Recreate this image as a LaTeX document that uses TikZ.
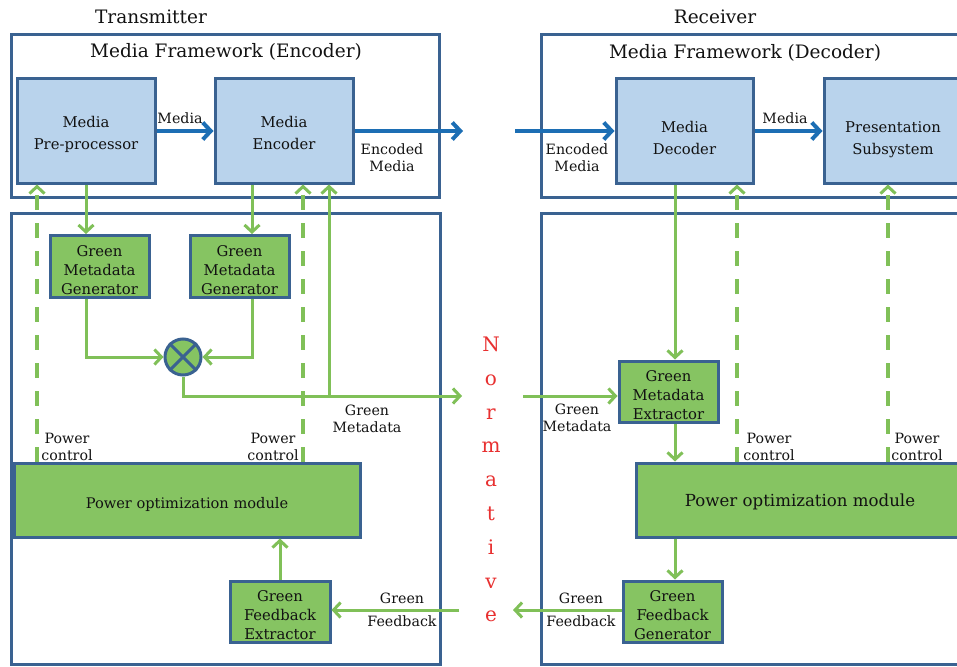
\documentclass[tikz,border=0pt]{standalone}
\usepackage{fontspec}
\setmainfont{DejaVu Serif}
\usetikzlibrary{arrows.meta}
\definecolor{frameblue}{RGB}{58,98,145}
\definecolor{boxblue}{RGB}{185,211,236}
\definecolor{boxgreen}{RGB}{134,196,98}
\definecolor{linegreen}{RGB}{128,192,88}
\definecolor{flowblue}{RGB}{28,110,180}
\definecolor{ink}{RGB}{18,18,18}
\definecolor{normred}{RGB}{232,48,48}
% lower a centred block of lines without changing its size
\newcommand\shiftdown[2]{\raisebox{-#1}[\height][\depth]{\begin{tabular}{@{}c@{}}#2\end{tabular}}}
\begin{document}
\begin{tikzpicture}[x=1pt,y=-1pt,
  every node/.style={text=ink, inner sep=0pt},
  frame/.style={draw=frameblue, line width=3pt},
  title/.style={font=\fontsize{18.5}{22}\selectfont},
  bluebox/.style={draw=frameblue, fill=boxblue, line width=3pt, minimum width=138pt,
    minimum height=104pt, font=\fontsize{14.8}{22}\selectfont},
  greenbox/.style={draw=frameblue, fill=boxgreen, line width=3pt, minimum width=99pt,
    minimum height=62pt, font=\fontsize{14.8}{19}\selectfont},
  powerbox/.style={draw=frameblue, fill=boxgreen, line width=3pt, minimum height=74pt},
  lbl/.style={align=center, font=\fontsize{14.2}{17}\selectfont},
  fblbl/.style={align=center, font=\fontsize{14.2}{23}\selectfont},
  gline/.style={draw=linegreen, line width=3pt},
  garrow/.style={gline, -{Straight Barb[length=7pt,width=15pt,line width=3pt]}},
  ctrl/.style={garrow, line width=4pt, dash pattern=on 15pt off 13pt},
  barrow/.style={draw=flowblue, line width=4pt,
    -{Straight Barb[length=8pt,width=17pt,line width=4pt]}},
  normletter/.style={text=normred, anchor=base, font=\fontsize{20}{22}\selectfont},
]
\useasboundingbox (0,0) rectangle (957,666);
\clip (0,0) rectangle (957,666);
\fill[white] (0,0) rectangle (957,666);

% ---------------- Transmitter ----------------
\node[title] (txtitle) at (151,17) {Transmitter};
\draw[frame] (11,35) rectangle (439,197);
\node[title] (enctitle) at (226,52) {Media Framework (Encoder)};
\draw[frame] (11,213) rectangle (440,664);

\node[bluebox] (pre) at (86,131) {\shiftdown{3pt}{Media\\Pre-processor}};
\node[bluebox] (enc) at (284,131) {\shiftdown{3pt}{Media\\Encoder}};
\node[greenbox] (gmgA) at (99.5,266.5) {\shiftdown{5pt}{Green\\Metadata\\Generator}};
\node[greenbox] (gmgB) at (239.5,266.5) {\shiftdown{5pt}{Green\\Metadata\\Generator}};
\node[circle, draw=frameblue, fill=boxgreen, line width=3pt, minimum size=36pt] (mix) at (183,357) {};
\draw[frameblue, line width=3pt] (mix.north west) -- (mix.south east)
  (mix.north east) -- (mix.south west);
\node[powerbox, minimum width=346pt, font=\fontsize{14.6}{18}\selectfont] (pomA) at (187,500)
  {\shiftdown{5pt}{Power optimization module}};
\node[greenbox, minimum width=100pt, minimum height=61pt] (gfe) at (280,611.5)
  {\shiftdown{5pt}{Green\\Feedback\\Extractor}};

\coordinate (encout) at (463,131);
\coordinate (tapB) at (252,0);
\coordinate (gmOut) at (462,396);
\coordinate (gmTap) at (329,396);
\coordinate (pcA) at (37,0);
\coordinate (pcB) at (303,0);
\coordinate (fbIn) at (459,610);

\draw[barrow] (pre.east) -- (enc.west);
\draw[barrow] (enc.east) -- (encout);
\draw[garrow] (pre.south) -- (pre.south |- gmgA.north);
\draw[garrow] (enc.south -| tapB) -- (gmgB.north -| tapB);
\draw[garrow] (gmgA.south -| pre.south) |- (mix.west);
\draw[garrow] (gmgB.south -| tapB) |- (mix.east);
\draw[garrow] (mix.south) |- (gmOut);
\draw[garrow] (gmTap) -- (gmTap |- enc.south);
\draw[ctrl] (pomA.north -| pcA) -- (pre.south -| pcA);
\draw[ctrl] (pomA.north -| pcB) -- (enc.south -| pcB);
\draw[garrow] (gfe.north) -- (gfe.north |- pomA.south);
\draw[garrow] (fbIn) -- (fbIn -| gfe.east);

\node[lbl] (lmedA) at (180,118) {Media};
\node[lbl] (lencA) at (392,158) {Encoded\\Media};
\node[lbl] (lgmA) at (367,419) {Green\\Metadata};
\node[lbl] (lpcA) at (67,447) {Power\\control};
\node[lbl] (lpcB) at (273,447) {Power\\control};
\node[fblbl] (lfbA) at (402,610) {Green\\Feedback};

% ---------------- Receiver ----------------
\node[title] (rxtitle) at (715,17) {Receiver};
\draw[frame] (541,35) rectangle (975,197);
\node[title] (dectitle) at (745,53) {Media Framework (Decoder)};
\draw[frame] (541,213) rectangle (975,664);

\node[bluebox, minimum width=137pt] (dec) at (684.5,131) {\shiftdown{8pt}{Media\\Decoder}};
\node[bluebox] (pres) at (893,131) {\shiftdown{8pt}{Presentation\\Subsystem}};
\node[greenbox, minimum height=61pt] (gme) at (668.5,391.5) {\shiftdown{5pt}{Green\\Metadata\\Extractor}};
\node[powerbox, minimum width=328pt, font=\fontsize{16.6}{20}\selectfont] (pomB) at (800,500)
  {\shiftdown{2pt}{Power optimization module}};
\node[greenbox, minimum height=61pt] (gfg) at (672.5,611.5) {\shiftdown{5pt}{Green\\Feedback\\Generator}};

\coordinate (encIn) at (515,131);
\coordinate (rtap) at (675,0);
\coordinate (gmIn) at (523,396);
\coordinate (pcC) at (737,0);
\coordinate (pcD) at (888,0);
\coordinate (fbOut) at (513,610);

\draw[barrow] (encIn) -- (dec.west);
\draw[barrow] (dec.east) -- (pres.west);
\draw[garrow] (dec.south -| rtap) -- (gme.north -| rtap);
\draw[garrow] (gmIn) -- (gmIn -| gme.west);
\draw[garrow] (gme.south -| rtap) -- (pomB.north -| rtap);
\draw[ctrl] (pomB.north -| pcC) -- (dec.south -| pcC);
\draw[ctrl] (pomB.north -| pcD) -- (pres.south -| pcD);
\draw[garrow] (pomB.south -| rtap) -- (gfg.north -| rtap);
\draw[garrow] (gfg.west |- fbOut) -- (fbOut);

\node[lbl] (lmedB) at (785,118) {Media};
\node[lbl] (lencB) at (577,158) {Encoded\\Media};
\node[lbl] (lgmB) at (577,418) {Green\\Metadata};
\node[lbl] (lpcC) at (769,447) {Power\\control};
\node[lbl] (lpcD) at (917,447) {Power\\control};
\node[fblbl] (lfbB) at (581,610) {Green\\Feedback};

% ---------------- boundary marker ----------------
\foreach \ch [count=\i from 0] in {N,o,r,m,a,t,i,v,e}
  \node[normletter] (norm\i) at (491,351.5+33.8*\i) {\ch};
\end{tikzpicture}
\end{document}
